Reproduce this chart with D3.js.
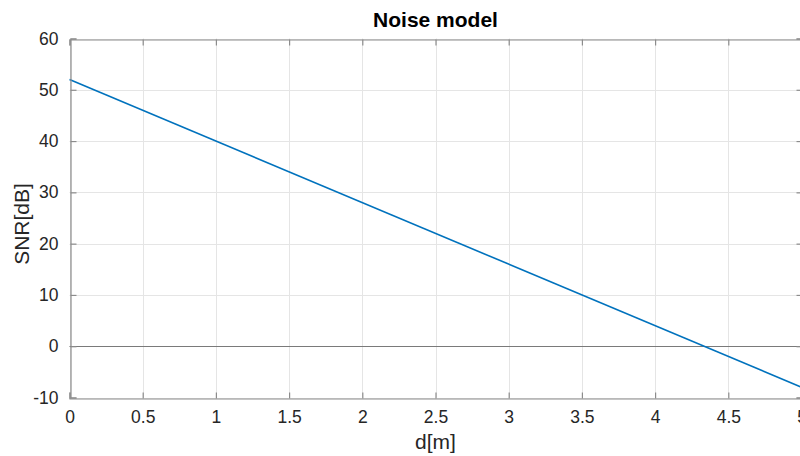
<!DOCTYPE html>
<html>
<head>
<meta charset="utf-8">
<script src="https://cdn.jsdelivr.net/npm/d3@7"></script>
<style>
  body { margin: 0; background: #fff; }
  svg { display: block; font-family: "Liberation Sans", Arial, sans-serif; }
</style>
</head>
<body>
<div class="chart"></div>
<script>
const W = 800, H = 456
const margin = {left: 69.5, top: 38.5, right: -1.5, bottom: 58}

// data
const dist = [0, 5]
const snr = [52, -8]
const xTicks = [0, 0.5, 1, 1.5, 2, 2.5, 3, 3.5, 4, 4.5, 5]
const yTicks = [-10, 0, 10, 20, 30, 40, 50, 60]

const svg = d3.select(".chart").append("svg")
    .attr("width", W)
    .attr("height", H)

const x = d3.scaleLinear().domain([0, 5]).range([margin.left, W - margin.right])
const y = d3.scaleLinear().domain([-10, 60]).range([H - margin.bottom - 0.5, margin.top])

// grid
svg.append("g")
    .selectAll("line")
    .data(xTicks)
    .enter().append("line")
    .attr("x1", d => Math.round(x(d)) + 0.5).attr("x2", d => Math.round(x(d)) + 0.5)
    .attr("y1", y(60)).attr("y2", y(-10))
    .attr("stroke", "#e5e5e5").attr("stroke-width", 1)

svg.append("g")
    .selectAll("line")
    .data(yTicks)
    .enter().append("line")
    .attr("x1", x(0)).attr("x2", x(5))
    .attr("y1", d => Math.round(y(d)) + 0.5).attr("y2", d => Math.round(y(d)) + 0.5)
    .attr("stroke", "#e5e5e5").attr("stroke-width", 1)

// zero line
svg.append("line")
    .attr("x1", x(0)).attr("x2", x(5))
    .attr("y1", Math.round(y(0)) + 0.5).attr("y2", Math.round(y(0)) + 0.5)
    .attr("stroke", "#7a7a7a").attr("stroke-width", 1)

// data line
svg.append("path")
    .datum(dist.map((d, i) => [d, snr[i]]))
    .attr("d", d3.line().x(d => x(d[0])).y(d => y(d[1])))
    .attr("fill", "none")
    .attr("stroke", "#0072bd")
    .attr("stroke-width", 1.6)

// axes
const axisColor = "#8c8c8c"
const textColor = "#262626"
const fmt = d => String(d)   // plain hyphen for negatives, like the original

const xAxis = svg.append("g")
    .attr("transform", `translate(0,${Math.round(y(-10)) + 0.5})`)
    .call(d3.axisBottom(x).tickValues(xTicks).tickSize(-6).tickPadding(12).tickFormat(fmt))
const xTop = svg.append("g")
    .attr("transform", `translate(0,${Math.round(y(60)) + 0.5})`)
    .call(d3.axisTop(x).tickValues(xTicks).tickSize(-6).tickFormat(""))
const yAxis = svg.append("g")
    .attr("transform", `translate(${Math.round(x(0)) + 0.5},0)`)
    .call(d3.axisLeft(y).tickValues(yTicks).tickSize(-6).tickPadding(12).tickFormat(fmt))
const yRight = svg.append("g")
    .attr("transform", `translate(${Math.round(x(5)) + 0.5},0)`)
    .call(d3.axisRight(y).tickValues(yTicks).tickSize(-6).tickFormat(""))

;[xAxis, xTop, yAxis, yRight].forEach(g => {
    g.select(".domain").attr("stroke", axisColor).attr("stroke-width", 1.2)
    g.selectAll(".tick line").attr("stroke", axisColor).attr("stroke-width", 1.2)
    g.selectAll(".tick text")
        .attr("fill", textColor)
        .style("font-size", "17.5px")
        .style("font-family", "Liberation Sans, Arial, sans-serif")
})

// titles
svg.append("text")
    .attr("x", (x(0) + x(5)) / 2).attr("y", 27)
    .attr("text-anchor", "middle")
    .attr("fill", "#000")
    .style("font-size", "21px").style("font-weight", "bold")
    .text("Noise model")

svg.append("text")
    .attr("x", (x(0) + x(5)) / 2).attr("y", 449)
    .attr("text-anchor", "middle")
    .attr("fill", textColor)
    .style("font-size", "21px")
    .text("d[m]")

svg.append("text")
    .attr("transform", `translate(29,${(y(60) + y(-10)) / 2 + 6}) rotate(-90)`)
    .attr("text-anchor", "middle")
    .attr("fill", textColor)
    .style("font-size", "21px")
    .text("SNR[dB]")
</script>
</body>
</html>
